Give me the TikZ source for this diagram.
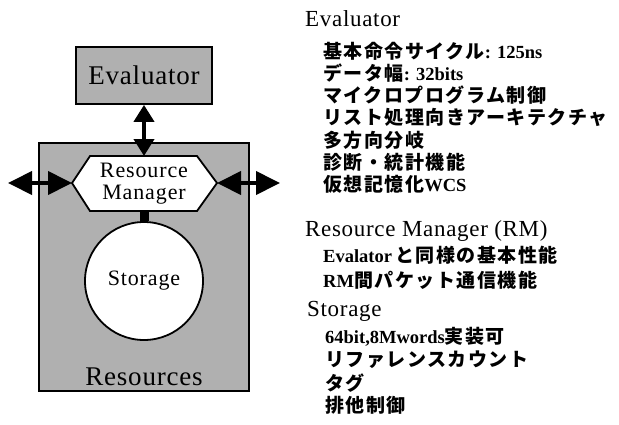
\documentclass[tikz,border=0pt]{standalone}
\usepackage{fontspec}
\setmainfont{Liberation Serif}
\newfontfamily\cjk{Noto Sans CJK JP}[LetterSpace=8]
\newcommand\J[1]{{\cjk\fontsize{19}{19}\selectfont\bfseries #1}}
\usetikzlibrary{arrows.meta,calc}
\begin{document}
\begin{tikzpicture}[x=1pt,y=-1pt,
  box/.style={draw=black, line width=1.8pt, fill=gray!62},
  boxlabel/.style={inner sep=0pt, font=\fontsize{27}{27}\selectfont\addfontfeature{LetterSpace=3}},
  inlabel/.style={inner sep=0pt, align=center, font=\fontsize{22}{22}\selectfont\addfontfeature{LetterSpace=4}},
  vdbl/.style={line width=4pt, {Triangle[width=20pt,length=17pt]}-{Triangle[width=20pt,length=17pt]}},
  hdbl/.style={line width=4pt, {Triangle[width=23pt,length=24pt]}-{Triangle[width=23pt,length=24pt]}},
  head/.style={anchor=base west, inner sep=0pt, font=\fontsize{23}{23}\selectfont\addfontfeature{LetterSpace=3}},
  item/.style={anchor=base west, inner sep=0pt, font=\fontsize{18.5}{18.5}\selectfont\bfseries},
]
\useasboundingbox (0,0) rectangle (619,424);
% boxes
\node[box, minimum width=210pt, minimum height=248pt] (res) at (144,267) {};
\node[boxlabel] (reslabel) at (144,377) {Resources};
\node[box, minimum width=136pt, minimum height=57pt, boxlabel, inner sep=0pt] (eval) at (144,75.5) {Evaluator};
% hexagon
\coordinate (rmL) at (72,183);
\coordinate (rmR) at (217,183);
\coordinate (rmT) at (144,156);
\coordinate (rmB) at (144,211);
\draw[fill=white, line width=1.8pt] (rmL) -- (90,156) -- (197,156) -- (rmR) -- (197,211) -- (90,211) -- cycle;
\node[inlabel] (rm) at (144,184) {Resource\\Manager};
% storage
\node[circle, draw, fill=white, line width=1.8pt, minimum size=118pt, inlabel] (sto) at (144,281) {Storage};
% connectors
\coordinate (lend) at (8,183);
\coordinate (rend) at (280,183);
\draw[vdbl] (eval.south) -- (rmT);
\draw[hdbl] (lend) -- (rmL);
\draw[hdbl] (rmR) -- (rend);
\draw[line width=9pt] (rmB) -- (sto.north);
% text
\node[head] (h1) at (305,26) {Evaluator};
\node[item] (e1) at (323,58) {\J{基本命令サイクル}: 125ns};
\node[item] (e2) at (323,80) {\J{データ幅}: 32bits};
\node[item] (e3) at (323,102) {\J{マイクロプログラム制御}};
\node[item] (e4) at (323,124.5) {\J{リスト処理向きアーキテクチャ}};
\node[item] (e5) at (323,147) {\J{多方向分岐}};
\node[item] (e6) at (323,169) {\J{診断・統計機能}};
\node[item] (e7) at (323,191) {\J{仮想記憶化}WCS};
\node[head] (h2) at (305,236) {Resource Manager (RM)};
\node[item] (r1) at (323,262) {Evalator\,\J{と同様の基本性能}};
\node[item] (r2) at (323,287) {RM\J{間パケット通信機能}};
\node[head] (h3) at (307,316) {Storage};
\node[item] (s1) at (325,343) {64bit,8Mwords\J{実装可}};
\node[item] (s2) at (325,366) {\J{リファレンスカウント}};
\node[item] (s3) at (325,390) {\J{タグ}};
\node[item] (s4) at (325,412) {\J{排他制御}};
\end{tikzpicture}
\end{document}
